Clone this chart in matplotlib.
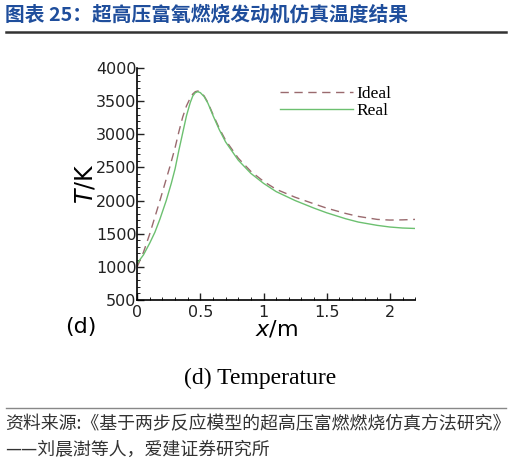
import numpy as np
import matplotlib.pyplot as plt
import matplotlib.transforms as mtransforms
from matplotlib.ticker import MultipleLocator

plt.rcParams['font.family'] = ['Noto Sans CJK SC', 'DejaVu Sans']
plt.rcParams['mathtext.fontset'] = 'dejavusans'

# ===== Data =====
x_ideal = [0.0, 0.05, 0.10, 0.14, 0.18, 0.22, 0.26, 0.30, 0.33, 0.36, 0.39, 0.42, 0.44, 0.46,
           0.48, 0.50, 0.53, 0.56, 0.60, 0.65, 0.70, 0.80, 0.90, 1.00, 1.10, 1.25, 1.40,
           1.50, 1.65, 1.75, 1.90, 2.00, 2.10, 2.20]
t_ideal = [1000, 1220, 1500, 1750, 2000, 2260, 2520, 2800, 3040, 3260, 3430, 3550, 3610, 3645,
           3655, 3640, 3580, 3480, 3300, 3090, 2910, 2640, 2440, 2290, 2170, 2050, 1950,
           1885, 1805, 1760, 1715, 1705, 1708, 1715]
x_real = [0.0, 0.05, 0.10, 0.14, 0.18, 0.23, 0.27, 0.30, 0.33, 0.36, 0.39, 0.42, 0.44, 0.46,
          0.48, 0.50, 0.53, 0.56, 0.60, 0.65, 0.70, 0.80, 0.90, 1.00, 1.10, 1.25, 1.40,
          1.50, 1.65, 1.75, 1.90, 2.00, 2.10, 2.20]
t_real = [1050, 1180, 1360, 1520, 1720, 2000, 2260, 2480, 2760, 3020, 3280, 3480, 3580, 3630,
          3645, 3630, 3570, 3470, 3285, 3070, 2885, 2610, 2410, 2260, 2135, 2000, 1885,
          1815, 1725, 1675, 1625, 1600, 1585, 1578]

fig = plt.figure(figsize=(5.10, 4.67), dpi=100)

# ===== Header =====
fig.text(0.010, 0.967, '图表 25：超高压富氧燃烧发动机仿真温度结果', fontsize=14.2,
         fontweight='bold', color='#1f4e9c', va='center', ha='left')
fig.add_artist(plt.Line2D([0.012, 0.992], [0.932, 0.932], color='#333333', lw=1.8))

# ===== Plot =====
ax = fig.add_axes([0.269, 0.358, 0.545, 0.496])
ax.plot(x_ideal, t_ideal, color='#9a6a6e', lw=1.0, ls=(0, (6, 4)), label='Ideal')
ax.plot(x_real, t_real, color='#6cc070', lw=1.0, label='Real')
ax.set_xlim(0, 2.2)
ax.set_ylim(500, 4000)
ax.xaxis.set_minor_locator(MultipleLocator(0.1))
ax.yaxis.set_major_locator(MultipleLocator(500))
ax.yaxis.set_minor_locator(MultipleLocator(100))
ax.set_xticks([0, 0.5, 1, 1.5, 2])
ax.set_xticklabels(['0', '0.5', '1', '1.5', '2'])
ax.tick_params(which='both', direction='in', color='#222222')
ax.tick_params(which='major', length=5, width=1, labelsize=11.5)
ax.tick_params(axis='x', which='major', pad=4)
ax.tick_params(axis='y', which='major', pad=0.5)
ax.tick_params(which='minor', length=2.5, width=0.7)
for lbl in ax.get_xticklabels() + ax.get_yticklabels():
    lbl.set_family('DejaVu Sans')
    lbl.set_color('#222222')
# nudge the lowest y label up a little so it does not sit on the "0"
lbl500 = ax.get_yticklabels()[0]
lbl500.set_transform(lbl500.get_transform() +
                     mtransforms.ScaledTranslation(0, 2 / 100, fig.dpi_scale_trans))
for s in ['top', 'right']:
    ax.spines[s].set_visible(False)
for s in ['left', 'bottom']:
    ax.spines[s].set_linewidth(1.2)
ax.set_xlabel('$x$/m', fontsize=16, labelpad=-1, family='DejaVu Sans')
ax.set_ylabel('$T$/K', fontsize=17, labelpad=-1, family='DejaVu Sans')
leg = ax.legend(loc='upper right', frameon=False,
                prop={'family': 'Liberation Serif', 'size': 12.5},
                handlelength=4.2, bbox_to_anchor=(0.97, 0.99), labelspacing=0.05,
                handletextpad=0.2)
fig.text(0.128, 0.300, '(d)', fontsize=16, family='DejaVu Sans', va='center')

# ===== Caption and source =====
fig.text(0.51, 0.19, '(d) Temperature', fontsize=17, family='Liberation Serif',
         ha='center', va='center')
fig.add_artist(plt.Line2D([0.012, 0.992], [0.126, 0.126], color='#888888', lw=1.0))
fig.text(0.010, 0.091, '资料来源:《基于两步反应模型的超高压富燃燃烧仿真方法研究》',
         fontsize=12.9, color='#333333', va='center')
fig.text(0.010, 0.036, '——刘晨澍等人，爱建证券研究所', fontsize=12.9,
         color='#333333', va='center')

fig.savefig('out.png', dpi=100)
